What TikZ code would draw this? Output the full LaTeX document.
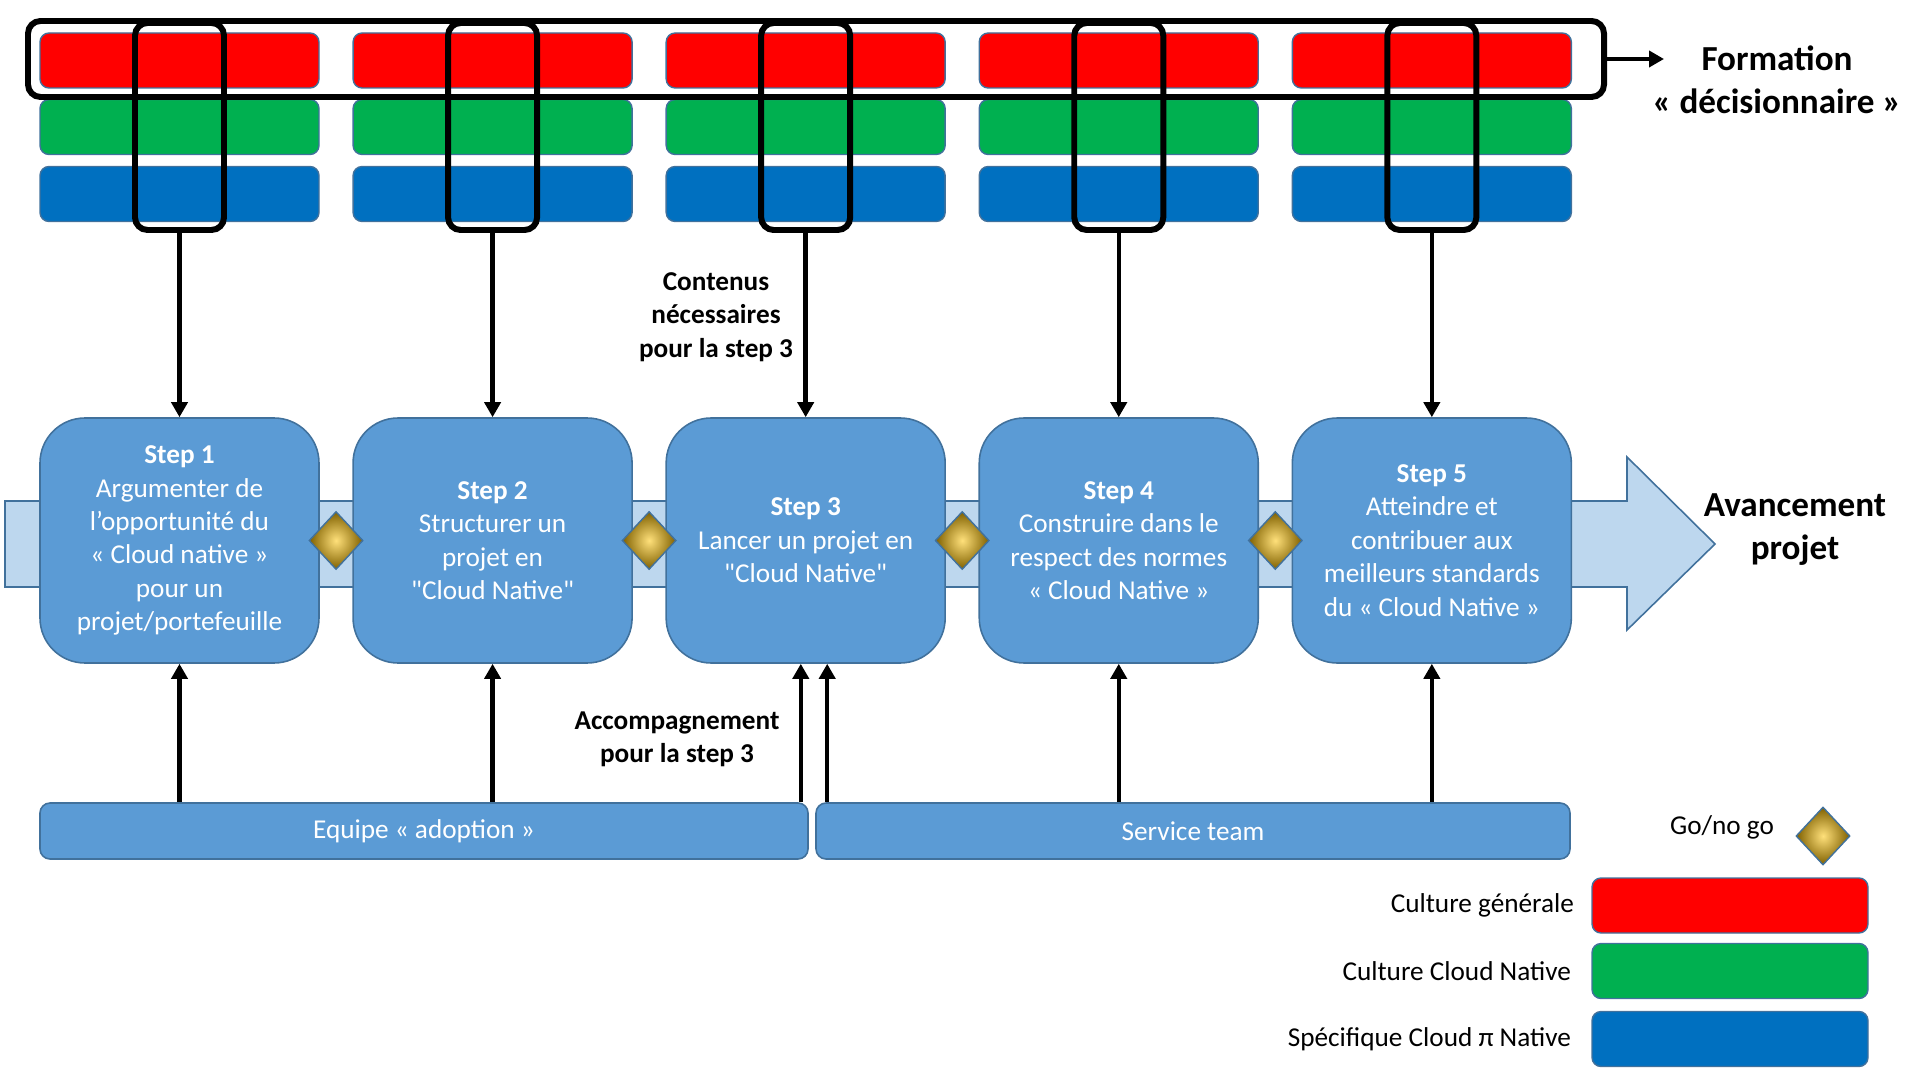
\documentclass[tikz,border=0pt]{standalone}
\usepackage{fontspec}
\setmainfont{Carlito}
\usepackage{xcolor}
\usepackage{tikz}
\usetikzlibrary{positioning, arrows.meta, shapes.geometric, calc}

\definecolor{stepblue}{HTML}{5B9BD5}
\definecolor{edgeblue}{HTML}{41719C}
\definecolor{paleblue}{HTML}{BDD7EE}
\definecolor{culred}{HTML}{FF0000}
\definecolor{culgreen}{HTML}{00B050}
\definecolor{culblue}{HTML}{0070C0}
\definecolor{golddark}{HTML}{7F6000}
\definecolor{goldlight}{HTML}{FFE07A}

\newcommand{\dq}{\textquotedbl}

\begin{document}
\begin{tikzpicture}[>={Triangle[length=0.3cm, width=0.32cm]}, node distance=0.65cm,
    stepbox/.style={draw=edgeblue, line width=0.9pt, fill=stepblue, rounded corners=0.9cm,
      minimum width=5.58cm, minimum height=4.9cm, text=white, align=center,
      font=\fontsize{15.5}{19}\selectfont},
    teambox/.style={draw=edgeblue, line width=0.9pt, fill=stepblue, rounded corners=0.2cm,
      minimum height=1.12cm, text=white, font=\fontsize{15.5}{19}\selectfont},
    bar/.style={draw=edgeblue, line width=0.8pt, rounded corners=0.18cm,
      minimum width=5.58cm, minimum height=1.1cm, inner sep=0pt},
    gate/.style={diamond, draw=edgeblue, line width=0.8pt, inner sep=0pt,
      minimum width=1.08cm, minimum height=1.16cm,
      shading=radial, inner color=goldlight, outer color=golddark},
    pick/.style={draw, line width=3.4pt, rounded corners=0.25cm, inner sep=0pt},
    flow/.style={->, line width=2.5pt},
    note/.style={align=center, font=\bfseries\fontsize{15.5}{19}\selectfont},
    big/.style={align=center, font=\bfseries\fontsize{20}{24.4}\selectfont},
    legend/.style={inner sep=0pt, font=\fontsize{15.5}{19}\selectfont}]

  \useasboundingbox (0,0) rectangle (38.14,-21.40);

  % progress arrow
  \path[draw=edgeblue, fill=paleblue, line width=0.9pt]
    (0.10,-10.02) -- (32.54,-10.02) -- (32.54,-9.14) -- (34.30,-10.88)
    -- (32.54,-12.60) -- (32.54,-11.74) -- (0.10,-11.74) -- cycle;
  \node[big] (avance) at (35.90,-10.59) {Avancement\\projet};

  % steps
  \node[stepbox] (s1) at (3.59,-10.81) {\textbf{Step 1}\\Argumenter de\\l’opportunité du\\« Cloud native »\\pour un\\projet/portefeuille};
  \node[stepbox, right=of s1] (s2) {\textbf{Step 2}\\Structurer un\\projet en\\\dq Cloud Native\dq};
  \node[stepbox, right=of s2] (s3) {\textbf{Step 3}\\Lancer un projet en\\\dq Cloud Native\dq};
  \node[stepbox, right=of s3] (s4) {\textbf{Step 4}\\Construire dans le\\respect des normes\\« Cloud Native »};
  \node[stepbox, right=of s4] (s5) {\textbf{Step 5}\\Atteindre et\\contribuer aux\\meilleurs standards\\du « Cloud Native »};

  \foreach \a/\b in {1/2,2/3,3/4,4/5}
    \node[gate] (go\a) at ($(s\a.east)!.5!(s\b.west)$) {};

  % training contents
  \foreach \i in {1,...,5}{
    \node[bar, fill=culred] (red\i) at (s\i |- 0,-1.21) {};
    \node[bar, fill=culgreen] (green\i) at (s\i |- 0,-2.54) {};
    \node[bar, fill=culblue] (blue\i) at (s\i |- 0,-3.88) {};
    \node[pick, minimum width=1.78cm, minimum height=4.14cm] (sel\i) at (s\i |- 0,-2.53) {};
    \draw[flow] (sel\i.south) -- (sel\i.south |- s\i.north);
  }

  \node[pick, minimum width=31.52cm, minimum height=1.52cm] (formbox) at (16.32,-1.18) {};
  \coordinate (formtip) at (33.28,-1.18);
  \draw[flow] (formbox.east) -- (formtip);
  \node[big] (form) at (35.54,-1.59) {Formation\\« décisionnaire »};

  \node[note] (contenus) at (14.32,-6.34) {Contenus\\nécessaires\\pour la step 3};
  \node[note] (accomp) at (13.54,-14.78) {Accompagnement\\pour la step 3};

  % teams
  \node[teambox, minimum width=15.36cm] (adopt) at (8.48,-16.62) {Equipe « adoption »};
  \node[teambox, minimum width=15.08cm] (service) at (23.86,-16.62) {Service team};

  \coordinate (a3) at ([xshift=-0.16cm]adopt.north east);
  \coordinate (b3) at ([xshift=0.24cm]service.north west);
  \draw[flow] (s1.south |- adopt.north) -- (s1.south);
  \draw[flow] (s2.south |- adopt.north) -- (s2.south);
  \draw[flow] (a3) -- (a3 |- s3.south);
  \draw[flow] (b3) -- (b3 |- s3.south);
  \draw[flow] (s4.south |- service.north) -- (s4.south);
  \draw[flow] (s5.south |- service.north) -- (s5.south);

  % legend
  \node[legend] (gonogo) at (34.44,-16.54) {Go/no go};
  \node[gate] (golegend) at (36.46,-16.72) {};
  \node[bar, fill=culred, minimum width=5.52cm] (leg1) at (34.60,-18.11) {};
  \node[bar, fill=culgreen, minimum width=5.52cm] (leg2) at (34.60,-19.42) {};
  \node[bar, fill=culblue, minimum width=5.52cm] (leg3) at (34.60,-20.78) {};
  \node[legend, left=0.34cm of leg1] (lab1) {Culture générale};
  \node[legend, left=0.4cm of leg2] (lab2) {Culture Cloud Native};
  \node[legend, left=0.4cm of leg3] (lab3) {Spécifique Cloud π Native};
\end{tikzpicture}
\end{document}
